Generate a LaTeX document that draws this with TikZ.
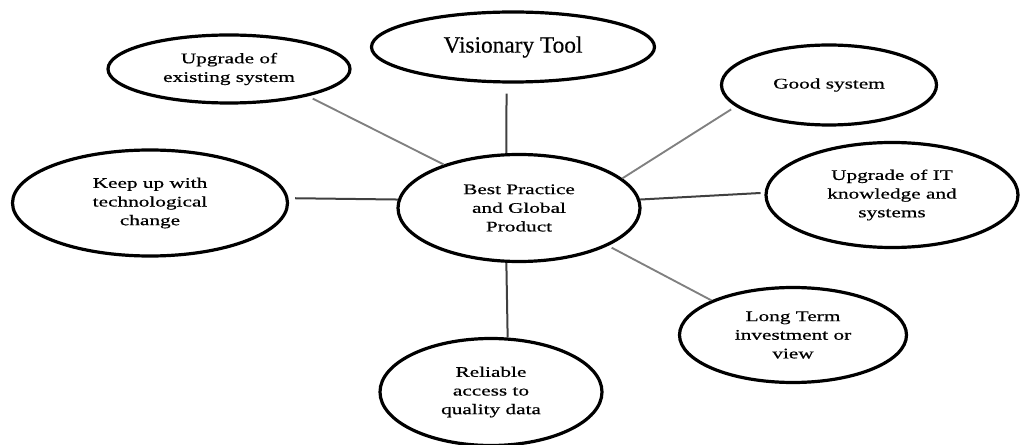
\documentclass[tikz,border=0pt]{standalone}
\usepackage{fontspec}
\setmainfont{Liberation Serif}
\newfontfamily\widefont[FakeStretch=1.45,FakeBold=0.6]{Liberation Serif}
\newfontfamily\titlefont[FakeBold=0.5]{Liberation Serif}
\usetikzlibrary{shapes.geometric}
\begin{document}
\begin{tikzpicture}[x=0.75pt,y=-0.75pt,
  bubble/.style={ellipse, draw=black, line width=2.4pt, inner sep=0pt, align=center,
    font=\widefont\fontsize{11}{14}\selectfont},
  darkline/.style={draw=black!75, line width=1.5pt},
  grayline/.style={draw=black!50, line width=1.4pt}]
\useasboundingbox (0,0) rectangle (1021,445);

\node[bubble, minimum width=212.25pt, minimum height=52.5pt,
  font=\titlefont\fontsize{17.5}{20}\selectfont] (vis) at (513,47) {Visionary Tool};
\node[bubble, minimum width=181.5pt, minimum height=51pt] (upe) at (229,69) {Upgrade of\\existing system};
\node[bubble, minimum width=161.25pt, minimum height=60pt] (good) at (829,85) {Good system};
\node[bubble, minimum width=206.25pt, minimum height=79.5pt] (keep) at (150,203) {Keep up with\\technological\\change};
\node[bubble, minimum width=181.5pt, minimum height=80.25pt] (best) at (519,208) {Best Practice\\and Global\\Product};
\node[bubble, minimum width=189pt, minimum height=78.75pt] (uit) at (892,195) {Upgrade of IT\\knowledge and\\systems};
\node[bubble, minimum width=170.25pt, minimum height=71.25pt] (long) at (793,335) {Long Term\\investment or\\view};
\node[bubble, minimum width=166.5pt, minimum height=80.25pt] (rel) at (491,392) {Reliable\\access to\\quality data};

\draw[grayline, shorten <=4pt] (upe.-19) -- (best.150);
\draw[grayline, shorten <=4pt] (good.193) -- (best.16);
\draw[grayline, shorten <=3pt] (best.-23) -- (long.157);
\draw[darkline, shorten <=3pt] (uit.179) -- (best.4);
\draw[darkline, shorten <=5pt] (keep.2) -- (best.176);
\draw[darkline, shorten <=7.5pt] (vis.-100) -- (best.103);
\draw[darkline] (best.-103) -- (rel.73);
\end{tikzpicture}
\end{document}
